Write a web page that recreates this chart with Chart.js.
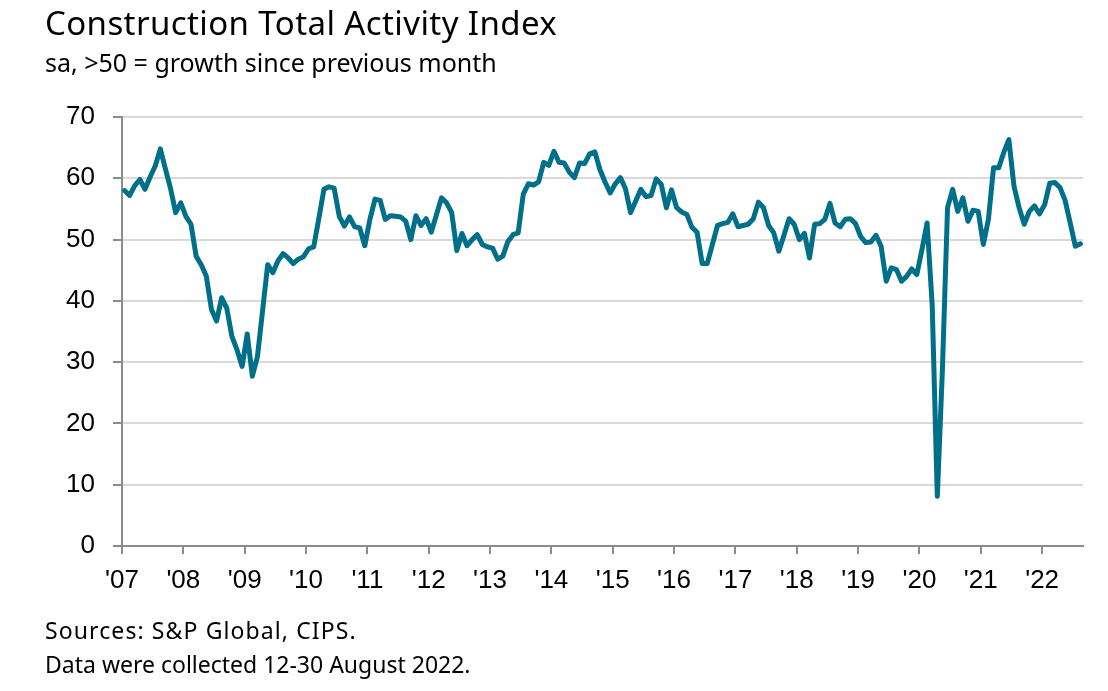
<!DOCTYPE html>
<html>
<head>
<meta charset="utf-8">
<script src="https://cdn.jsdelivr.net/npm/chart.js@4/dist/chart.umd.min.js"></script>
<style>
  html, body { margin: 0; padding: 0; background: #fff; }
  #wrap { position: relative; width: 1108px; height: 691px; overflow: hidden; }
  #chart { position: absolute; left: 0; top: 0; }
  .txt { position: absolute; left: 45px; font-family: "Noto Sans", Roboto, sans-serif; color: #000; line-height: 1; white-space: nowrap; }
  #title { top: 6px; font-size: 33px; letter-spacing: 0.4px; }
  #subtitle { top: 50px; font-size: 25px; }
  #src { top: 619px; font-size: 23px; letter-spacing: 1.1px; }
  #note { top: 653px; font-size: 23px; }
</style>
</head>
<body>
<div id="wrap">
  <canvas id="chart" width="1108" height="691"></canvas>
  <div class="txt" id="title">Construction Total Activity Index</div>
  <div class="txt" id="subtitle">sa, &gt;50 = growth since previous month</div>
  <div class="txt" id="src">Sources: S&amp;P Global, CIPS.</div>
  <div class="txt" id="note">Data were collected 12-30 August 2022.</div>
</div>
<script>
  // monthly index values (Jan 2007 - Aug 2022)
  var y2007 = [58.0, 57.2, 58.8, 59.8, 58.2, 60.2, 62.0, 64.8, 61.5, 58.3, 54.4, 56.0];
  var y2008 = [53.8, 52.5, 47.3, 45.9, 44.0, 38.6, 36.7, 40.5, 38.8, 34.2, 32.0, 29.3];
  var y2009 = [34.6, 27.7, 30.9, 38.4, 45.9, 44.6, 46.5, 47.7, 47.0, 46.1, 46.8, 47.2];
  var y2010 = [48.5, 48.8, 53.4, 58.2, 58.6, 58.4, 53.8, 52.2, 53.7, 52.1, 51.9, 49.0];
  var y2011 = [53.3, 56.6, 56.4, 53.3, 53.9, 53.8, 53.7, 53.0, 50.0, 53.9, 52.3, 53.4];
  var y2012 = [51.2, 54.0, 56.8, 56.0, 54.4, 48.2, 51.0, 49.0, 50.0, 50.8, 49.2, 48.8];
  var y2013 = [48.6, 46.8, 47.3, 49.7, 50.8, 51.1, 57.4, 59.1, 58.9, 59.4, 62.6, 62.1];
  var y2014 = [64.4, 62.6, 62.5, 61.0, 60.1, 62.5, 62.4, 64.0, 64.3, 61.4, 59.4, 57.6];
  var y2015 = [59.1, 60.1, 58.3, 54.4, 56.3, 58.2, 57.0, 57.2, 59.9, 59.0, 55.2, 58.1];
  var y2016 = [55.2, 54.5, 54.1, 52.0, 51.2, 46.1, 46.1, 49.2, 52.3, 52.6, 52.8, 54.2];
  var y2017 = [52.1, 52.3, 52.5, 53.4, 56.1, 55.2, 52.3, 51.1, 48.1, 50.7, 53.4, 52.5];
  var y2018 = [50.0, 51.0, 47.0, 52.5, 52.6, 53.3, 55.9, 52.7, 52.1, 53.3, 53.4, 52.6];
  var y2019 = [50.5, 49.5, 49.6, 50.7, 48.9, 43.2, 45.4, 45.1, 43.2, 44.0, 45.2, 44.3];
  var y2020 = [48.4, 52.7, 39.3, 8.1, 28.9, 55.2, 58.2, 54.6, 56.8, 53.0, 54.8, 54.6];
  var y2021 = [49.2, 53.3, 61.7, 61.7, 64.2, 66.3, 58.7, 55.2, 52.5, 54.6, 55.5, 54.2];
  var y2022 = [55.7, 59.2, 59.3, 58.5, 56.4, 52.7, 48.9, 49.3];

  var yearLabels = ["'07", "'08", "'09", "'10", "'11", "'12", "'13", "'14", "'15", "'16", "'17", "'18", "'19", "'20", "'21", "'22"];
  var yTicks = [0, 10, 20, 30, 40, 50, 60, 70];

  var values = [].concat(y2007, y2008, y2009, y2010, y2011, y2012, y2013, y2014,
                         y2015, y2016, y2017, y2018, y2019, y2020, y2021, y2022);

  // x counts months from Jan 2007; each point sits in the middle of its month
  var points = values.map(function (v, i) { return { x: i + 0.5, y: v }; });

  var axisGrey = '#8c8c8c';
  var tickFont = { family: '"Liberation Sans", Arial, sans-serif', size: 26 };

  var ctx = document.getElementById('chart').getContext('2d');
  window.pmiChart = new Chart(ctx, {
    type: 'line',
    data: {
      datasets: [{
        data: points,
        borderColor: '#006f8a',
        borderWidth: 5,
        pointRadius: 0,
        tension: 0,
        borderJoinStyle: 'round',
        borderCapStyle: 'round',
        fill: false
      }]
    },
    options: {
      responsive: false,
      animation: false,
      parsing: false,
      layout: { padding: { top: 117, right: 25, bottom: 0, left: 0 } },
      plugins: { legend: { display: false }, tooltip: { enabled: false } },
      scales: {
        x: {
          type: 'linear',
          min: 0,
          max: values.length,
          afterFit: function (s) { s.height = 145; },
          border: { color: axisGrey, width: 2 },
          grid: {
            drawOnChartArea: false,
            drawTicks: true,
            tickLength: 8,
            lineWidth: 2,
            color: axisGrey
          },
          ticks: {
            stepSize: 12,
            includeBounds: false,
            autoSkip: false,
            maxRotation: 0,
            minRotation: 0,
            padding: 11,
            color: '#000',
            font: tickFont,
            callback: function (v) { return yearLabels[v / 12]; }
          }
        },
        y: {
          min: yTicks[0],
          max: yTicks[yTicks.length - 1],
          afterFit: function (s) { s.width = 122; },
          afterBuildTicks: function (s) { s.ticks = yTicks.map(function (v) { return { value: v }; }); },
          border: { color: axisGrey, width: 2 },
          grid: { color: '#d9d9d9', lineWidth: 2, tickColor: axisGrey, tickLength: 9 },
          ticks: { color: '#000', font: tickFont, padding: 18 }
        }
      }
    }
  });
</script>
</body>
</html>
